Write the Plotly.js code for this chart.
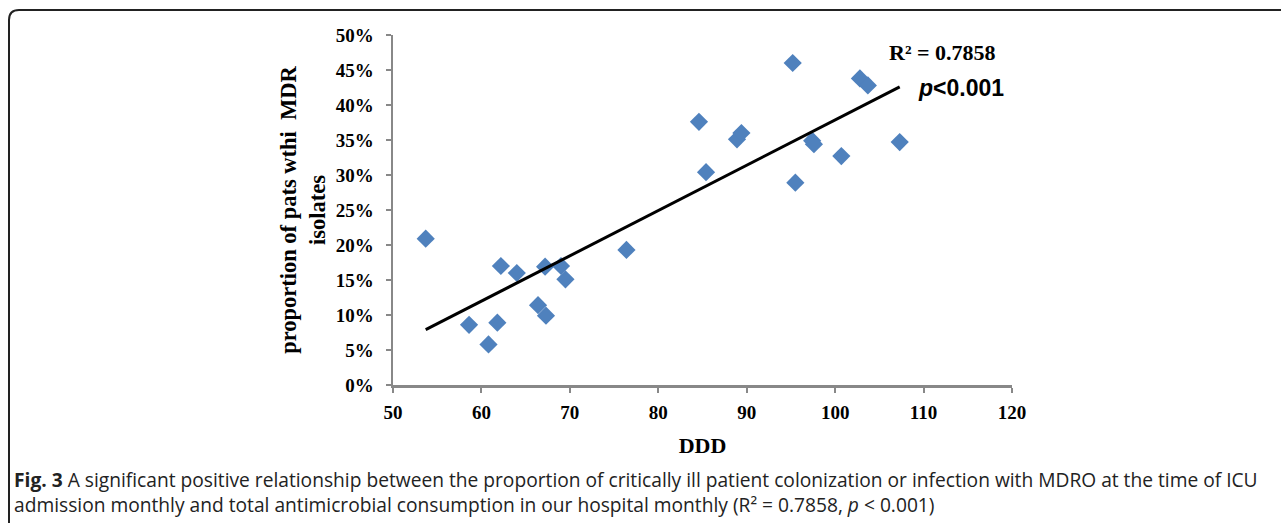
<!DOCTYPE html>
<html>
<head>
<meta charset="utf-8">
<script src="https://cdn.plot.ly/plotly-3.0.1.min.js"></script>
<style>
html,body{margin:0;padding:0;background:#fff;}
#chart{width:1281px;height:523px;}
</style>
</head>
<body>
<div id="chart"></div>
<script>
// Data
const ddd = [53.7, 58.6, 60.8, 61.8, 62.2, 64.0, 66.4, 67.3, 67.2, 69.0, 69.5, 76.4,
             84.6, 85.4, 88.9, 89.4, 95.2, 95.5, 97.4, 97.6, 100.7, 102.8, 103.7, 107.3];
const proportion = [20.9, 8.6, 5.8, 8.9, 17.0, 16.0, 11.4, 9.9, 16.9, 17.0, 15.1, 19.3,
                    37.6, 30.4, 35.1, 36.0, 46.0, 28.9, 34.9, 34.4, 32.7, 43.8, 42.8, 34.7];
const trendX = [53.7, 107.3];
const trendY = [7.9, 42.6];
const xTicks = [50, 60, 70, 80, 90, 100, 110, 120];
const yTicks = [0, 5, 10, 15, 20, 25, 30, 35, 40, 45, 50];
const r2Label = 'R² = 0.7858';
const pLabel = '<i>p</i><0.001';
const xTitle = 'DDD';
const yTitle = 'proportion of pats wthi \u00a0MDR<br>isolates';
const caption1 = '<b>Fig. 3</b> A significant positive relationship between the proportion of critically ill patient colonization or infection with MDRO at the time of ICU';
const caption2 = 'admission monthly and total antimicrobial consumption in our hospital monthly (R² = 0.7858, <i>p</i> < 0.001)';

// plot area in pixels
const L = 393, R = 1012, T = 35, B = 385, Wd = 1281, Ht = 523;
const pw = R - L, ph = B - T;
const px = p => (p - L) / pw;
const py = p => (B - p) / ph;

const serif = 'Liberation Serif, Times New Roman, serif';
const axisColor = '#888888';

const traces = [
  {
    x: ddd, y: proportion, type: 'scatter', mode: 'markers',
    marker: {symbol: 'diamond', size: 14, color: '#4F81BD'},
    hoverinfo: 'x+y', showlegend: false
  },
  {
    x: trendX, y: trendY, type: 'scatter', mode: 'lines',
    line: {color: '#000000', width: 3},
    hoverinfo: 'skip', showlegend: false
  }
];

// rounded frame
const fx0 = px(9), fy0 = py(10), fx1 = px(1290), fy1 = py(540);
const rx = 10 / pw, ry = 10 / ph;
const framePath = `M ${fx0} ${fy1} L ${fx0} ${fy0 - ry} Q ${fx0} ${fy0} ${fx0 + rx} ${fy0} L ${fx1} ${fy0}`;

const layout = {
  width: Wd, height: Ht,
  margin: {l: L, r: Wd - R, t: T, b: Ht - B, pad: 0},
  paper_bgcolor: '#ffffff', plot_bgcolor: '#ffffff',
  showlegend: false,
  xaxis: {
    range: [50, 120], tickvals: xTicks, ticktext: xTicks.map(String),
    showgrid: false, zeroline: false, showline: true,
    linecolor: axisColor, linewidth: 2.5,
    ticks: 'outside', ticklen: 5, tickwidth: 2, tickcolor: axisColor,
    ticklabelstandoff: 4,
    tickfont: {family: serif, size: 19, color: '#000', weight: 'bold'},
    title: {text: xTitle, font: {family: serif, size: 22, color: '#000', weight: 'bold'}, standoff: 16},
    automargin: false, fixedrange: true
  },
  yaxis: {
    range: [0, 50], tickvals: yTicks, ticktext: yTicks.map(v => v + '%'),
    showgrid: false, zeroline: false, showline: true,
    linecolor: axisColor, linewidth: 2.5,
    ticks: 'outside', ticklen: 5, tickwidth: 2, tickcolor: axisColor,
    ticklabelstandoff: 8,
    tickfont: {family: serif, size: 19, color: '#000', weight: 'bold'},
    title: {text: yTitle, font: {family: serif, size: 22.5, color: '#000', weight: 'bold'}, standoff: 4},
    automargin: false, fixedrange: true
  },
  shapes: [
    {type: 'path', xref: 'paper', yref: 'paper', path: framePath,
     line: {color: '#222222', width: 2}, layer: 'above'}
  ],
  annotations: [
    {text: r2Label, xref: 'paper', yref: 'paper', x: px(942), y: py(53),
     xanchor: 'center', yanchor: 'middle', showarrow: false,
     font: {family: serif, size: 22, color: '#000', weight: 'bold'}},
    {text: '<b>' + pLabel + '</b>', xref: 'paper', yref: 'paper', x: px(916), y: py(88),
     xanchor: 'left', yanchor: 'middle', showarrow: false,
     font: {family: 'Liberation Sans, Arial, sans-serif', size: 23, color: '#000'}},
    {text: caption1 + '<br>' + caption2, xref: 'paper', yref: 'paper', x: px(12), y: py(492),
     xanchor: 'left', yanchor: 'middle', align: 'left', showarrow: false,
     font: {family: 'Open Sans, sans-serif', size: 19.2, color: '#222'}}
  ]
};

Plotly.newPlot('chart', traces, layout, {displayModeBar: false, staticPlot: true});
</script>
</body>
</html>
